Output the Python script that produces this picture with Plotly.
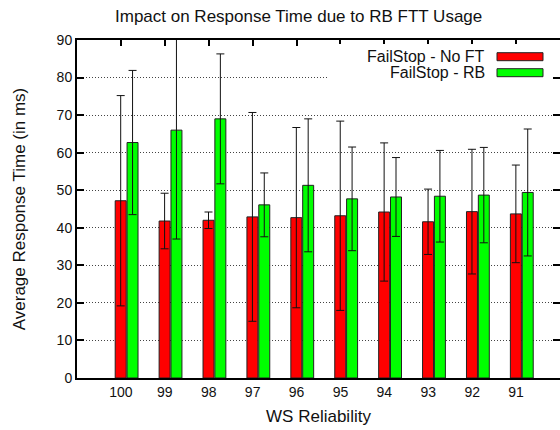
import plotly.graph_objects as go

# Response time per WS reliability level (ms)
reliability = ["100", "99", "98", "97", "96", "95", "94", "93", "92", "91"]
no_ft_mean = [47.2, 41.8, 42.0, 42.9, 42.7, 43.2, 44.2, 41.6, 44.3, 43.7]
no_ft_err = [28.0, 7.4, 2.2, 27.8, 24.0, 25.2, 18.4, 8.7, 16.6, 13.0]
rb_mean = [62.7, 66.0, 69.0, 46.1, 51.3, 47.7, 48.2, 48.4, 48.7, 49.4]
rb_err = [19.2, 29.0, 17.3, 8.5, 17.7, 13.8, 10.5, 12.2, 12.7, 16.9]
series_names = ["FailStop - No FT", "FailStop - RB"]
series_colors = ["#ff0000", "#00ff00"]

W, H = 560, 430
L, R, T, B = 77, 0, 40, 52
pw, ph = W - L - R, H - T - B

def px_x(p):
    return (p - L) / pw

def px_y(p):
    return (H - B - p) / ph

pos = list(range(1, len(reliability) + 1))
yticks = list(range(0, 100, 10))
FONT = "Liberation Sans, Arial, sans-serif"
INK = "#111111"

fig = go.Figure()
bar_line = dict(color="#222222", width=1)
err_style = dict(type="data", thickness=1, width=4, color="#111111")

fig.add_trace(go.Bar(
    x=pos, y=no_ft_mean, width=0.25, offset=-0.13,
    marker=dict(color=series_colors[0], line=bar_line),
    error_y=dict(array=no_ft_err, **err_style),
    name=series_names[0], showlegend=False,
))
fig.add_trace(go.Bar(
    x=pos, y=rb_mean, width=0.25, offset=0.14,
    marker=dict(color=series_colors[1], line=bar_line),
    error_y=dict(array=rb_err, **err_style),
    name=series_names[1], showlegend=False,
))
# invisible trace so the top and right tick axes are drawn
fig.add_trace(go.Scatter(x=pos, y=[0] * len(pos), xaxis="x2", yaxis="y2", mode="markers",
                         marker=dict(opacity=0), showlegend=False, hoverinfo="skip"))

fig.update_layout(
    width=W, height=H,
    margin=dict(l=L, r=R, t=T, b=B),
    paper_bgcolor="white", plot_bgcolor="white",
    barmode="overlay",
    font=dict(family=FONT, size=14, color=INK),
    xaxis=dict(
        range=[0, 11], tickvals=pos, ticktext=reliability, ticks="",
        showgrid=False, zeroline=False,
        showline=True, linecolor="black", linewidth=2, mirror=True,
        title=dict(text="WS Reliability", standoff=11, font=dict(size=17)),
    ),
    xaxis2=dict(
        range=[0, 11], overlaying="x", side="top", tickvals=pos,
        ticks="inside", ticklen=6, tickwidth=2, tickcolor="black",
        showticklabels=False, showgrid=False, zeroline=False, showline=False,
    ),
    yaxis=dict(
        range=[0, 90], tickvals=yticks,
        ticks="inside", ticklen=7, tickwidth=2, tickcolor="black",
        showgrid=True, gridcolor="#444444", griddash="1px,2px", gridwidth=1,
        zeroline=False,
        showline=True, linecolor="black", linewidth=2, mirror=False,
        title=dict(text="Average Response Time (in ms)", standoff=27, font=dict(size=17)),
    ),
    yaxis2=dict(
        range=[0, 90], overlaying="y", side="right", tickvals=yticks,
        ticks="inside", ticklen=7, tickwidth=2, tickcolor="black",
        showticklabels=False, showgrid=False, zeroline=False, showline=False,
    ),
    showlegend=False,
)

# key: white backing box, colour samples and right-aligned labels
shapes = [dict(type="rect", xref="paper", yref="paper", layer="above",
               x0=px_x(329), x1=px_x(552), y0=px_y(85), y1=px_y(44),
               fillcolor="white", line=dict(width=0))]
annotations = []
for i, (name, color) in enumerate(zip(series_names, series_colors)):
    yc = 56.7 + 16 * i
    shapes.append(dict(type="rect", xref="paper", yref="paper", layer="above",
                       x0=px_x(497), x1=px_x(543), y0=px_y(yc + 4), y1=px_y(yc - 4),
                       fillcolor=color, line=dict(color="#222222", width=1)))
    annotations.append(dict(xref="paper", yref="paper", x=px_x(487), y=px_y(yc),
                            text=name, showarrow=False, xanchor="right", yanchor="middle",
                            font=dict(family=FONT, size=16, color=INK)))

annotations.append(dict(xref="paper", yref="paper", x=px_x(298), y=px_y(17),
                        text="Impact on Response Time due to RB FTT Usage",
                        showarrow=False, xanchor="center", yanchor="middle",
                        font=dict(family=FONT, size=17, color=INK)))

fig.update_layout(shapes=shapes, annotations=annotations)
fig.write_html("out.html")
